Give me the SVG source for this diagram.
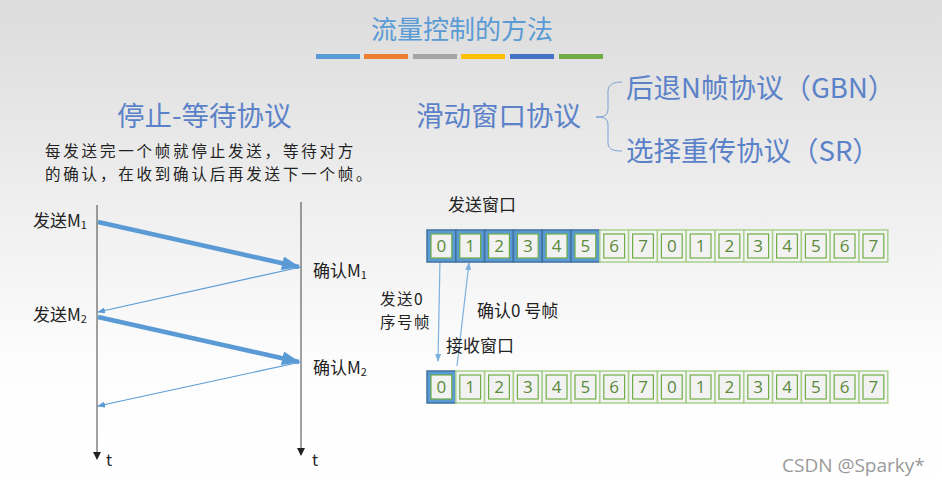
<svg xmlns="http://www.w3.org/2000/svg" width="942" height="486" viewBox="0 0 942 486">
<defs>
<linearGradient id="bg" x1="0" y1="0" x2="0" y2="1">
<stop offset="0" stop-color="#dcdcdc"/>
<stop offset="0.75" stop-color="#fdfdfd"/>
<stop offset="1" stop-color="#ffffff"/>
</linearGradient>
<marker id="big2" markerWidth="18" markerHeight="14" refX="17" refY="7" orient="auto" markerUnits="userSpaceOnUse">
<path d="M0,0 L18,7 L0,14 Z" fill="#5b9bd5"/>
</marker>
<marker id="small" markerWidth="8" markerHeight="6" refX="7" refY="3" orient="auto" markerUnits="userSpaceOnUse">
<path d="M0,0 L8,3 L0,6 Z" fill="#5b9bd5"/>
</marker>
<marker id="tip" markerWidth="8" markerHeight="8" refX="7" refY="4" orient="auto" markerUnits="userSpaceOnUse">
<path d="M0,0 L8,4 L0,8 Z" fill="#222"/>
</marker>
<marker id="lt" markerWidth="8" markerHeight="8" refX="7" refY="4" orient="auto" markerUnits="userSpaceOnUse">
<path d="M0,1 L8,4 L0,7 Z" fill="#7cb0e0"/>
</marker>
</defs>
<style>
.t{font-family:"Noto Sans CJK SC","Noto Sans",sans-serif;}
.h{font-size:27.5px;fill:#5b82c8;}
.p{font-size:15.5px;fill:#222;letter-spacing:2.8px;}
.lab{font-size:17px;fill:#222;}
.lab2{font-size:15.5px;fill:#222;letter-spacing:1.5px;}
.num{font-family:"Open Sans","Noto Sans",sans-serif;font-size:17px;fill:#5b8a3a;text-anchor:middle;}
.bo{fill:#5b9bd5;stroke:#41719c;stroke-width:1.5;}
.go{fill:#f4f4f4;stroke:#a9d18e;stroke-width:1.5;}
.in{fill:#f2f2f2;stroke:#70ad47;stroke-width:1.2;}
.thick{stroke:#5b9bd5;stroke-width:4.5;fill:none;}
.thin{stroke:#5b9bd5;stroke-width:1.2;fill:none;}
.axis{stroke:#444;stroke-width:1;}
.lb{stroke:#7cb0e0;stroke-width:1.2;fill:none;}
</style>
<rect width="942" height="486" fill="url(#bg)"/>
<g id="title">
<text class="t" x="462" y="39" font-size="26" fill="#5b9bd5" text-anchor="middle">流量控制的方法</text>
<rect x="316" y="54" width="44" height="5" fill="#5b9bd5"/>
<rect x="364" y="54" width="44" height="5" fill="#ed7d31"/>
<rect x="413" y="54" width="44" height="5" fill="#a5a5a5"/>
<rect x="461" y="54" width="44" height="5" fill="#ffc000"/>
<rect x="510" y="54" width="44" height="5" fill="#4472c4"/>
<rect x="559" y="54" width="44" height="5" fill="#70ad47"/>
</g>
<g id="stopwait">
<text class="t h" x="117" y="126">停止-等待协议</text>
<text class="t p" x="45" y="157">每发送完一个帧就停止发送，等待对方</text>
<text class="t p" x="45" y="180">的确认，在收到确认后再发送下一个帧。</text>
</g>
<g id="sliding">
<text class="t h" x="416" y="126">滑动窗口协议</text>
<path d="M596,117 C604,117 607,116 608,110 L608,90 C609,84 614,82 622,82 M596,117 C604,117 607,118 608,124 L608,144 C609,150 614,151 622,151" fill="none" stroke="#7aa3d4" stroke-width="1"/>
<text class="t h" x="626" y="98">后退N帧协议（GBN）</text>
<text class="t h" x="626" y="161">选择重传协议（SR）</text>
</g>
<g id="timeline">
<line class="axis" x1="97" y1="205" x2="97" y2="459" marker-end="url(#tip)"/>
<line class="axis" x1="301" y1="202" x2="301" y2="455" marker-end="url(#tip)"/>
<text class="t" x="106" y="466" font-size="16" fill="#222">t</text>
<text class="t" x="312" y="466" font-size="16" fill="#222">t</text>
<text class="t lab" x="33" y="227">发送M<tspan font-size="11" dy="2">1</tspan></text>
<text class="t lab" x="313" y="277">确认M<tspan font-size="11" dy="2">1</tspan></text>
<text class="t lab" x="33" y="321">发送M<tspan font-size="11" dy="2">2</tspan></text>
<text class="t lab" x="313" y="374">确认M<tspan font-size="11" dy="2">2</tspan></text>
</g>
<g id="connectors">
<line class="thick" x1="98" y1="222" x2="299" y2="267" marker-end="url(#big2)"/>
<line class="thin" x1="301" y1="267" x2="98" y2="312" marker-end="url(#small)"/>
<line class="thick" x1="98" y1="317" x2="299" y2="362" marker-end="url(#big2)"/>
<line class="thin" x1="301" y1="362" x2="98" y2="406" marker-end="url(#small)"/>
<line class="lb" x1="440" y1="260" x2="438" y2="361" marker-end="url(#lt)"/>
<line class="lb" x1="457" y1="366" x2="469" y2="263" marker-end="url(#lt)"/>
</g>
<g id="sendwin">
<text class="t lab" x="448" y="211">发送窗口</text>
<rect class="bo" x="427" y="230" width="28.8" height="32"/><rect class="in" x="431" y="234" width="20.8" height="24"/><text class="num" x="441.4" y="252">0</text>
<rect class="bo" x="455.8" y="230" width="28.8" height="32"/><rect class="in" x="459.8" y="234" width="20.8" height="24"/><text class="num" x="470.2" y="252">1</text>
<rect class="bo" x="484.6" y="230" width="28.8" height="32"/><rect class="in" x="488.6" y="234" width="20.8" height="24"/><text class="num" x="499" y="252">2</text>
<rect class="bo" x="513.4" y="230" width="28.8" height="32"/><rect class="in" x="517.4" y="234" width="20.8" height="24"/><text class="num" x="527.8" y="252">3</text>
<rect class="bo" x="542.2" y="230" width="28.8" height="32"/><rect class="in" x="546.2" y="234" width="20.8" height="24"/><text class="num" x="556.6" y="252">4</text>
<rect class="bo" x="571" y="230" width="28.8" height="32"/><rect class="in" x="575" y="234" width="20.8" height="24"/><text class="num" x="585.4" y="252">5</text>
<rect class="go" x="599.8" y="230" width="28.8" height="32"/><rect class="in" x="603.8" y="234" width="20.8" height="24"/><text class="num" x="614.2" y="252">6</text>
<rect class="go" x="628.6" y="230" width="28.8" height="32"/><rect class="in" x="632.6" y="234" width="20.8" height="24"/><text class="num" x="643" y="252">7</text>
<rect class="go" x="657.4" y="230" width="28.8" height="32"/><rect class="in" x="661.4" y="234" width="20.8" height="24"/><text class="num" x="671.8" y="252">0</text>
<rect class="go" x="686.2" y="230" width="28.8" height="32"/><rect class="in" x="690.2" y="234" width="20.8" height="24"/><text class="num" x="700.6" y="252">1</text>
<rect class="go" x="715" y="230" width="28.8" height="32"/><rect class="in" x="719" y="234" width="20.8" height="24"/><text class="num" x="729.4" y="252">2</text>
<rect class="go" x="743.8" y="230" width="28.8" height="32"/><rect class="in" x="747.8" y="234" width="20.8" height="24"/><text class="num" x="758.2" y="252">3</text>
<rect class="go" x="772.6" y="230" width="28.8" height="32"/><rect class="in" x="776.6" y="234" width="20.8" height="24"/><text class="num" x="787" y="252">4</text>
<rect class="go" x="801.4" y="230" width="28.8" height="32"/><rect class="in" x="805.4" y="234" width="20.8" height="24"/><text class="num" x="815.8" y="252">5</text>
<rect class="go" x="830.2" y="230" width="28.8" height="32"/><rect class="in" x="834.2" y="234" width="20.8" height="24"/><text class="num" x="844.6" y="252">6</text>
<rect class="go" x="859" y="230" width="28.8" height="32"/><rect class="in" x="863" y="234" width="20.8" height="24"/><text class="num" x="873.4" y="252">7</text>
</g>
<g id="labels">
<text class="t lab2" x="380" y="305">发送0</text>
<text class="t lab2" x="380" y="328">序号帧</text>
<text class="t lab" x="477" y="317">确认0 号帧</text>
<text class="t lab" x="446" y="352">接收窗口</text>
</g>
<g id="recvwin">
<rect class="bo" x="427" y="371" width="28.8" height="32"/><rect class="in" x="431" y="375" width="20.8" height="24"/><text class="num" x="441.4" y="393">0</text>
<rect class="go" x="455.8" y="371" width="28.8" height="32"/><rect class="in" x="459.8" y="375" width="20.8" height="24"/><text class="num" x="470.2" y="393">1</text>
<rect class="go" x="484.6" y="371" width="28.8" height="32"/><rect class="in" x="488.6" y="375" width="20.8" height="24"/><text class="num" x="499" y="393">2</text>
<rect class="go" x="513.4" y="371" width="28.8" height="32"/><rect class="in" x="517.4" y="375" width="20.8" height="24"/><text class="num" x="527.8" y="393">3</text>
<rect class="go" x="542.2" y="371" width="28.8" height="32"/><rect class="in" x="546.2" y="375" width="20.8" height="24"/><text class="num" x="556.6" y="393">4</text>
<rect class="go" x="571" y="371" width="28.8" height="32"/><rect class="in" x="575" y="375" width="20.8" height="24"/><text class="num" x="585.4" y="393">5</text>
<rect class="go" x="599.8" y="371" width="28.8" height="32"/><rect class="in" x="603.8" y="375" width="20.8" height="24"/><text class="num" x="614.2" y="393">6</text>
<rect class="go" x="628.6" y="371" width="28.8" height="32"/><rect class="in" x="632.6" y="375" width="20.8" height="24"/><text class="num" x="643" y="393">7</text>
<rect class="go" x="657.4" y="371" width="28.8" height="32"/><rect class="in" x="661.4" y="375" width="20.8" height="24"/><text class="num" x="671.8" y="393">0</text>
<rect class="go" x="686.2" y="371" width="28.8" height="32"/><rect class="in" x="690.2" y="375" width="20.8" height="24"/><text class="num" x="700.6" y="393">1</text>
<rect class="go" x="715" y="371" width="28.8" height="32"/><rect class="in" x="719" y="375" width="20.8" height="24"/><text class="num" x="729.4" y="393">2</text>
<rect class="go" x="743.8" y="371" width="28.8" height="32"/><rect class="in" x="747.8" y="375" width="20.8" height="24"/><text class="num" x="758.2" y="393">3</text>
<rect class="go" x="772.6" y="371" width="28.8" height="32"/><rect class="in" x="776.6" y="375" width="20.8" height="24"/><text class="num" x="787" y="393">4</text>
<rect class="go" x="801.4" y="371" width="28.8" height="32"/><rect class="in" x="805.4" y="375" width="20.8" height="24"/><text class="num" x="815.8" y="393">5</text>
<rect class="go" x="830.2" y="371" width="28.8" height="32"/><rect class="in" x="834.2" y="375" width="20.8" height="24"/><text class="num" x="844.6" y="393">6</text>
<rect class="go" x="859" y="371" width="28.8" height="32"/><rect class="in" x="863" y="375" width="20.8" height="24"/><text class="num" x="873.4" y="393">7</text>
</g>
<g id="watermark">
<text x="782" y="472" font-family="'Open Sans','Noto Sans',sans-serif" font-size="19" fill="#9a9a9a">CSDN @Sparky*</text>
</g>
</svg>
